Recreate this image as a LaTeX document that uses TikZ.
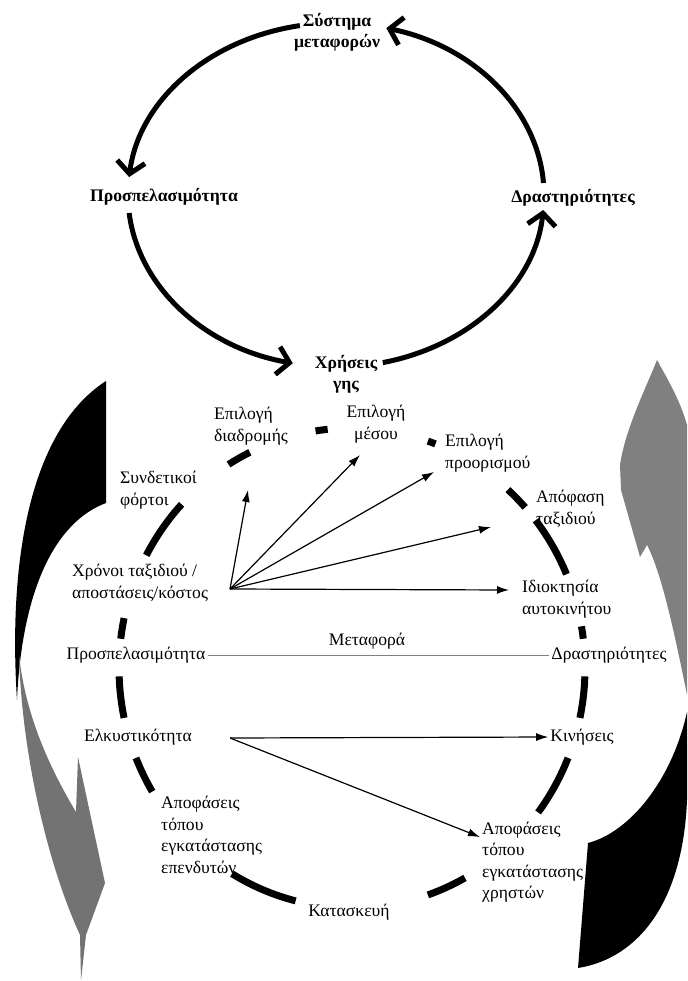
\documentclass[tikz,border=0pt]{standalone}
\usepackage{fontspec}
\setmainfont{Liberation Serif}
\usepackage{tikz}
\usetikzlibrary{arrows.meta}
\tikzstyle{arrow} = [line width=1.2pt,-{Latex[length=12pt,width=8pt]}]
\tikzstyle{cyc} = [line width=5pt,-{Straight Barb[length=12pt,width=28pt]}]
\tikzstyle{ring} = [line width=7pt]
\tikzstyle{big} = [font=\bfseries\fontsize{17.7}{21}\selectfont, align=center]

\begin{document}
\begin{tikzpicture}[x=1pt, y=-1pt, every node/.style={font=\fontsize{17.6}{21.5}\selectfont, inner sep=2pt, align=left}]
\useasboundingbox (0,0) rectangle (687,981);

% side swooshes
\fill[black] (106,381) -- (106,503) .. controls (55,522) and (22,590) .. (17,700) .. controls (8,560) and (30,430) .. (106,381) -- cycle;
\fill[black!55] (19,655) .. controls (22,760) and (50,870) .. (80,935) -- (81,980) -- (86,935) -- (105,883) -- (78,757) -- (76,812) .. controls (45,760) and (25,710) .. (19,655) -- cycle;
\fill[black!50] (657,360) .. controls (668,380) and (680,400) .. (687,425) -- (687,695) .. controls (672,620) and (660,570) .. (647,545) -- (640,557) -- (621,490) -- (620,465) .. controls (625,430) and (645,390) .. (657,360) -- cycle;
\fill[black] (578,968) -- (588,843) .. controls (630,832) and (672,780) .. (687,712) -- (687,800) .. controls (683,900) and (640,958) .. (578,968) -- cycle;

% upper cycle
\node[big] (sys) at (337,32) {Σύστημα\\μεταφορών};
\node[big] (pros) at (164,197) {Προσπελασιμότητα};
\node[big] (dras) at (573,198) {Δραστηριότητες};
\node[big] (xris) at (346,374) {Χρήσεις\\γης};

\coordinate (c1) at (336,195);
\foreach \a/\b in {100/174,186/258,283/355,4/76}
  \draw[cyc] (c1) ++(-\a:208 and 172) arc[start angle=-\a, end angle=-\b, x radius=208, y radius=172];

% lower cycle
\node[anchor=west] (diadr) at (212,426) {Επιλογή\\διαδρομής};
\node[align=center] (mesou) at (376,424) {Επιλογή\\μέσου};
\node[anchor=west] (proor) at (443,453) {Επιλογή\\προορισμού};
\node[anchor=west] (synd) at (118,490) {Συνδετικοί\\φόρτοι};
\node[anchor=west] (apof) at (534,509) {Απόφαση\\ταξιδιού};
\node[anchor=west] (xronoi) at (70,583) {Χρόνοι ταξιδιού /\\αποστάσεις/κόστος};
\node[anchor=west] (idiok) at (520,599) {Ιδιοκτησία\\αυτοκινήτου};
\node (metaf) at (367,641) {Μεταφορά};
\node (prosR) at (136,655) {Προσπελασιμότητα};
\node (drasR) at (609,655) {Δραστηριότητες};
\node (elk) at (138,737) {Ελκυστικότητα};
\node (kin) at (582,737) {Κινήσεις};
\node[anchor=west] (apofEp) at (159,835) {Αποφάσεις\\τόπου\\εγκατάστασης\\επενδυτών};
\node[anchor=west] (apofXr) at (480,862) {Αποφάσεις\\τόπου\\εγκατάστασης\\χρηστών};
\node (kat) at (349,912) {Κατασκευή};

\coordinate (c2) at (352,668);
\foreach \a/\b in {116/122,96/99,69/71,42/48,23/38,7/10,348/358,323/338,289/299,239/256,202/211,182/192,168/173,137/152}
  \draw[ring] (c2) ++(-\a:233 and 240) arc[start angle=-\a, end angle=-\b, x radius=233, y radius=240];

% thin arrows
\coordinate (fan) at (230,589);
\coordinate (t1) at (248,490);
\coordinate (t2) at (360,455);
\coordinate (t3) at (434,472);
\coordinate (t4) at (491,527);
\coordinate (t5) at (509,590);
\foreach \t in {t1,t2,t3,t4,t5}
  \draw[arrow] (fan) -- (\t);

\coordinate (elkE) at (230,738);
\coordinate (t6) at (480,837);
\draw[arrow] (elkE) -- (kin.west);
\draw[arrow] (elkE) -- (t6);

\draw[gray, line width=0.8pt] (prosR) -- (drasR);
\end{tikzpicture}
\end{document}
